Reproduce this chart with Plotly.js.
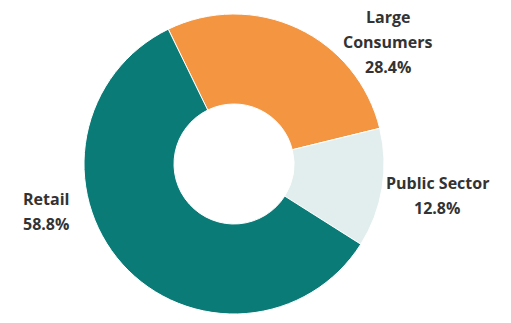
<!DOCTYPE html>
<html>
<head>
<meta charset="utf-8">
<script src="https://cdn.plot.ly/plotly-3.0.1.min.js"></script>
<style>html,body{margin:0;padding:0;background:#fff;}#chart{width:511px;height:323px;}</style>
</head>
<body>
<div id="chart"></div>
<script>
const categories = ['Large Consumers', 'Public Sector', 'Retail'];
const labelLines = [['Large', 'Consumers'], ['Public Sector'], ['Retail']];
const shares = [28.4, 12.8, 58.8];
const colors = ['#f39541', '#e2eeed', '#0a7b77'];

// label anchor positions in pixels (layout only)
const labelPos = [[388, 17], [437, 183], [46, 199]];
const lineGap = 25;
const W = 511, H = 323;
const cx = 234, cy = 164, R = 150;

const annotations = [];
categories.forEach((c, i) => {
  const lines = labelLines[i].concat([shares[i].toFixed(1) + '%']);
  lines.forEach((t, j) => {
    annotations.push({
      text: t,
      xref: 'paper', yref: 'paper',
      x: labelPos[i][0] / W,
      y: 1 - (labelPos[i][1] + j * lineGap) / H,
      xanchor: 'center', yanchor: 'middle',
      showarrow: false,
      font: {family: 'Open Sans', size: 16, color: '#333333', weight: 700}
    });
  });
});

const trace = {
  type: 'pie',
  labels: categories,
  values: shares,
  hole: 0.4,
  sort: false,
  direction: 'clockwise',
  rotation: -26,
  textinfo: 'none',
  marker: {colors: colors, line: {color: '#ffffff', width: 1}},
  domain: {x: [(cx - R) / W, (cx + R) / W], y: [(H - cy - R) / H, (H - cy + R) / H]},
  hoverinfo: 'label+percent'
};

Plotly.newPlot('chart', [trace], {
  width: W, height: H,
  margin: {l: 0, r: 0, t: 0, b: 0},
  showlegend: false,
  paper_bgcolor: '#ffffff',
  annotations: annotations
}, {displayModeBar: false, staticPlot: true});
</script>
</body>
</html>
